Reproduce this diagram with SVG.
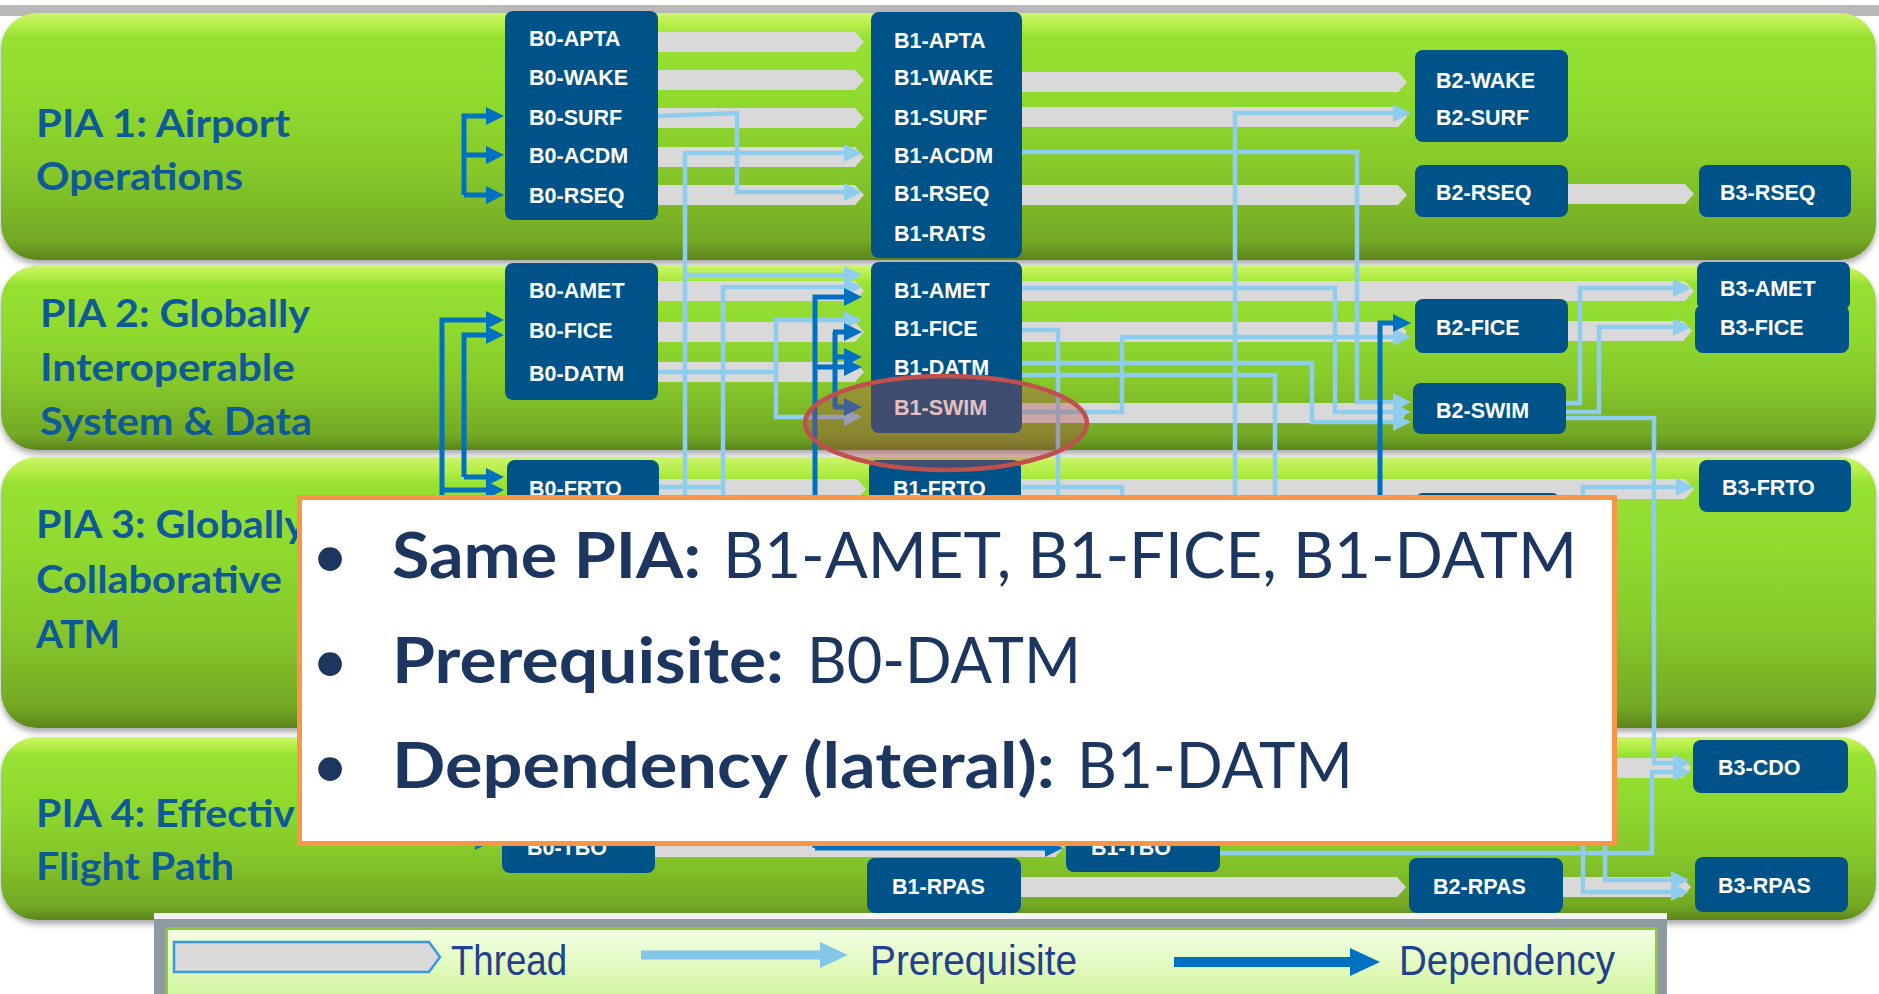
<svg xmlns="http://www.w3.org/2000/svg" width="1879" height="994" viewBox="0 0 1879 994">
<style>
.band{fill:url(#gb);filter:url(#sh)}
.box{fill:#005388}
.nt{font-family:"Liberation Sans",Arial,sans-serif;font-weight:bold;font-size:21.5px;fill:#ffffff}
.ti{font-family:Lato,"Open Sans",sans-serif;font-weight:700;font-size:38px;fill:#0e5a98}
.th{fill:#d9d9d9}
.pq{fill:none;stroke:#8fcdee;stroke-width:4.5;marker-end:url(#ap)}
.dp{fill:none;stroke:#0070c0;stroke-width:5;marker-end:url(#ad)}
.pb{font-family:Lato,"Open Sans",sans-serif;font-weight:700;font-size:64px;fill:#1c3660}
.pr{font-family:Lato,"Open Sans",sans-serif;font-weight:400;font-size:64px;fill:#1c3660}
.lg{font-family:"Liberation Sans",Arial,sans-serif;font-size:42px;fill:#22408c}
</style>
<defs>
<linearGradient id="gb" x1="0" y1="0" x2="0" y2="1">
<stop offset="0" stop-color="#cdf56a"/>
<stop offset="0.05" stop-color="#b6ee48"/>
<stop offset="0.1" stop-color="#97e132"/>
<stop offset="0.35" stop-color="#90da2e"/>
<stop offset="0.65" stop-color="#85c72b"/>
<stop offset="0.92" stop-color="#73a924"/>
<stop offset="1" stop-color="#5c851d"/>
</linearGradient>
<linearGradient id="gl" x1="0" y1="0" x2="0" y2="1">
<stop offset="0" stop-color="#f3ffe6"/>
<stop offset="1" stop-color="#d2f59c"/>
</linearGradient>
<filter id="sh" x="-2%" y="-5%" width="104%" height="115%">
<feDropShadow dx="0" dy="4" stdDeviation="3" flood-color="#000" flood-opacity="0.35"/>
</filter>
<marker id="ap" viewBox="0 0 18 18" refX="0" refY="9" markerWidth="18" markerHeight="18" markerUnits="userSpaceOnUse" orient="auto"><path d="M0,0 L18,9 L0,18 z" fill="#8fcdee"/></marker>
<marker id="ad" viewBox="0 0 18 18" refX="0" refY="9" markerWidth="18" markerHeight="18" markerUnits="userSpaceOnUse" orient="auto"><path d="M0,0 L18,9 L0,18 z" fill="#0070c0"/></marker>
</defs>
<rect x="0" y="0" width="1879" height="994" fill="#ffffff"/>
<rect x="0" y="5" width="1879" height="11" fill="#b9b9b9"/>

<g id="bands">
<rect class="band" x="1" y="13" width="1875" height="247" rx="36"/>
<rect class="band" x="1" y="266" width="1875" height="184" rx="36"/>
<rect class="band" x="1" y="457" width="1875" height="271" rx="36"/>
<rect class="band" x="1" y="737" width="1875" height="183" rx="36"/>
</g>

<g id="pia-titles">
<text class="ti" x="36" y="137" textLength="254" lengthAdjust="spacingAndGlyphs">PIA 1: Airport</text>
<text class="ti" x="36" y="190" textLength="207" lengthAdjust="spacingAndGlyphs">Operations</text>
<text class="ti" x="40" y="327" textLength="270" lengthAdjust="spacingAndGlyphs">PIA 2: Globally</text>
<text class="ti" x="40" y="381" textLength="255" lengthAdjust="spacingAndGlyphs">Interoperable</text>
<text class="ti" x="40" y="435" textLength="272" lengthAdjust="spacingAndGlyphs">System &amp; Data</text>
<text class="ti" x="36" y="538" textLength="270" lengthAdjust="spacingAndGlyphs">PIA 3: Globally</text>
<text class="ti" x="36" y="593" textLength="246" lengthAdjust="spacingAndGlyphs">Collaborative</text>
<text class="ti" x="36" y="648" textLength="84" lengthAdjust="spacingAndGlyphs">ATM</text>
<text class="ti" x="36" y="827" textLength="259" lengthAdjust="spacingAndGlyphs">PIA 4: Effectiv</text>
<text class="ti" x="36" y="880" textLength="198" lengthAdjust="spacingAndGlyphs">Flight Path</text>
</g>

<g id="connectors">
<g id="threads">
<polygon class="th" points="658,32 855,32 864,42 855,52 658,52"/>
<polygon class="th" points="658,70 855,70 864,80 855,90 658,90"/>
<polygon class="th" points="658,108 855,108 864,118 855,128 658,128"/>
<polygon class="th" points="658,147 855,147 864,157 855,167 658,167"/>
<polygon class="th" points="658,185 855,185 864,195 855,205 658,205"/>
<polygon class="th" points="1022,72 1398,72 1407,82 1398,92 1022,92"/>
<polygon class="th" points="1022,107 1398,107 1407,117 1398,127 1022,127"/>
<polygon class="th" points="1022,185 1398,185 1407,195 1398,205 1022,205"/>
<polygon class="th" points="1568,184 1685,184 1694,194 1685,204 1568,204"/>
<polygon class="th" points="658,281 855,281 864,291 855,301 658,301"/>
<polygon class="th" points="658,322 855,322 864,332 855,342 658,342"/>
<polygon class="th" points="658,362 855,362 864,372 855,382 658,382"/>
<polygon class="th" points="1022,281 1685,281 1694,291 1685,301 1022,301"/>
<polygon class="th" points="1022,322 1398,322 1407,332 1398,342 1022,342"/>
<polygon class="th" points="1568,321 1683,321 1692,331 1683,341 1568,341"/>
<polygon class="th" points="1022,403 1398,403 1407,413 1398,423 1022,423"/>
<polygon class="th" points="659,479 857,479 866,489 857,499 659,499"/>
<polygon class="th" points="1021,479 1685,479 1694,489 1685,499 1021,499"/>
<polygon class="th" points="1400,758 1682,758 1691,768 1682,778 1400,778"/>
<polygon class="th" points="655,837 1055,837 1064,847 1055,857 655,857"/>
<polygon class="th" points="1021,877 1397,877 1406,887 1397,897 1021,897"/>
<polygon class="th" points="1563,877 1682,877 1691,887 1682,897 1563,897"/>
</g>
<g id="prerequisites">
<path class="pq" d="M658,116 L737,113 V192 H844"/>
<path class="pq" d="M658,620 H685 V153 H844"/>
<path class="pq" d="M685,275 H844"/>
<path class="pq" d="M723,600 V287 H844"/>
<path class="pq" d="M658,487 H723" style="marker-end:none"/>
<path class="pq" d="M776,372 V320 H844"/>
<path class="pq" d="M658,372 H776 V417 H844"/>
<path class="pq" d="M1022,152 H1357 V402 H1393"/>
<path class="pq" d="M1022,288 H1335 V412 H1393"/>
<path class="pq" d="M1022,363 H1312 V422 H1393"/>
<path class="pq" d="M1022,375 H1275 V620" style="marker-end:none"/>
<path class="pq" d="M1022,330 H1058 V620" style="marker-end:none"/>
<path class="pq" d="M1022,412 H1122 V337 H1393"/>
<path class="pq" d="M1235,620 V113 H1393"/>
<path class="pq" d="M1022,487 H1122 V620" style="marker-end:none"/>
<path class="pq" d="M1566,403 H1580 V288 H1673"/>
<path class="pq" d="M1566,412 H1599 V327 H1673"/>
<path class="pq" d="M1566,418 H1654 V763 H1673"/>
<path class="pq" d="M1220,853 H1652 V772 H1673"/>
<path class="pq" d="M1583,620 V487 H1676"/>
<path class="pq" d="M1583,620 V892 H1671"/>
<path class="pq" d="M1605,700 V880 H1671"/>
</g>
<g id="dependencies">
<path class="dp" d="M464,195 V116 H486"/>
<path class="dp" d="M464,155 H486"/>
<path class="dp" d="M464,195 H486"/>
<path class="dp" d="M442,840 V320 H486"/>
<path class="dp" d="M442,490 H486"/>
<path class="dp" d="M442,700 V841 H475"/>
<path class="dp" d="M464,477 V335 H486"/>
<path class="dp" d="M464,477 H486"/>
<path class="dp" d="M815,848 V297 H844"/>
<path class="dp" d="M815,367 H844"/>
<path class="dp" d="M815,848 H1045"/>
<path class="dp" d="M835,332 V407" style="marker-end:none"/>
<path class="dp" d="M833,332 H844"/>
<path class="dp" d="M833,357 H844"/>
<path class="dp" d="M833,407 H844"/>
<path class="dp" d="M1380,620 V323 H1393"/>
</g>
</g>

<g id="b0-pia1"><rect class="box" x="505" y="11" width="153" height="209" rx="8"/>
<text class="nt" x="529" y="46">B0-APTA</text><text class="nt" x="529" y="85">B0-WAKE</text><text class="nt" x="529" y="125">B0-SURF</text><text class="nt" x="529" y="163">B0-ACDM</text><text class="nt" x="529" y="203">B0-RSEQ</text></g>
<g id="b1-pia1"><rect class="box" x="871" y="12" width="151" height="246" rx="8"/>
<text class="nt" x="894" y="48">B1-APTA</text><text class="nt" x="894" y="85">B1-WAKE</text><text class="nt" x="894" y="125">B1-SURF</text><text class="nt" x="894" y="163">B1-ACDM</text><text class="nt" x="894" y="201">B1-RSEQ</text><text class="nt" x="894" y="241">B1-RATS</text></g>
<g id="b2-pia1"><rect class="box" x="1415" y="50" width="153" height="92" rx="8"/>
<text class="nt" x="1436" y="88">B2-WAKE</text><text class="nt" x="1436" y="125">B2-SURF</text></g>
<g id="b2-rseq"><rect class="box" x="1415" y="165" width="153" height="52" rx="8"/><text class="nt" x="1436" y="200">B2-RSEQ</text></g>
<g id="b3-rseq"><rect class="box" x="1699" y="165" width="152" height="52" rx="8"/><text class="nt" x="1720" y="200">B3-RSEQ</text></g>
<g id="b0-pia2"><rect class="box" x="505" y="263" width="153" height="137" rx="8"/>
<text class="nt" x="529" y="298">B0-AMET</text><text class="nt" x="529" y="338">B0-FICE</text><text class="nt" x="529" y="381">B0-DATM</text></g>
<g id="b1-pia2"><rect class="box" x="871" y="262" width="151" height="171" rx="8"/>
<text class="nt" x="894" y="298">B1-AMET</text><text class="nt" x="894" y="336">B1-FICE</text><text class="nt" x="894" y="375">B1-DATM</text><text class="nt" x="894" y="415">B1-SWIM</text></g>
<g id="b2-fice"><rect class="box" x="1415" y="299" width="153" height="54" rx="8"/><text class="nt" x="1436" y="335">B2-FICE</text></g>
<g id="b2-swim"><rect class="box" x="1413" y="383" width="153" height="51" rx="8"/><text class="nt" x="1436" y="418">B2-SWIM</text></g>
<g id="b3-amet"><rect class="box" x="1697" y="262" width="153" height="48" rx="8"/><text class="nt" x="1720" y="296">B3-AMET</text></g>
<g id="b3-fice"><rect class="box" x="1695" y="305" width="154" height="48" rx="8"/><text class="nt" x="1720" y="335">B3-FICE</text></g>
<g id="b0-frto"><rect class="box" x="507" y="460" width="152" height="120" rx="8"/><text class="nt" x="529" y="496">B0-FRTO</text></g>
<g id="b1-frto"><rect class="box" x="869" y="460" width="152" height="120" rx="8"/><text class="nt" x="893" y="496">B1-FRTO</text></g>
<g id="b2-pia3"><rect class="box" x="1415" y="493" width="145" height="60" rx="8"/></g>
<g id="b3-frto"><rect class="box" x="1699" y="460" width="152" height="52" rx="8"/><text class="nt" x="1722" y="495">B3-FRTO</text></g>
<g id="b0-tbo"><rect class="box" x="502" y="820" width="153" height="53" rx="8"/><text class="nt" x="527" y="855">B0-TBO</text></g>
<g id="b1-tbo"><rect class="box" x="1066" y="820" width="154" height="52" rx="8"/><text class="nt" x="1091" y="855">B1-TBO</text></g>
<g id="b3-cdo"><rect class="box" x="1693" y="740" width="155" height="53" rx="8"/><text class="nt" x="1718" y="775">B3-CDO</text></g>
<g id="b1-rpas"><rect class="box" x="867" y="858" width="154" height="55" rx="8"/><text class="nt" x="892" y="894">B1-RPAS</text></g>
<g id="b2-rpas"><rect class="box" x="1409" y="858" width="154" height="55" rx="8"/><text class="nt" x="1433" y="894">B2-RPAS</text></g>
<g id="b3-rpas"><rect class="box" x="1695" y="857" width="153" height="55" rx="8"/><text class="nt" x="1718" y="893">B3-RPAS</text></g>

<ellipse id="highlight" cx="946" cy="423" rx="141" ry="47" fill="rgb(180,70,70)" fill-opacity="0.35" stroke="#c0504d" stroke-width="4.5"/>

<g id="legend">
<rect x="154" y="913" width="1513" height="81" fill="#f4f4f4"/>
<rect x="154" y="919" width="1513" height="75" fill="#8e9aa1"/>
<rect x="166.5" y="928.5" width="1490" height="70" fill="url(#gl)" stroke="#8dc63f" stroke-width="3"/>
<polygon points="174,942 429,942 440,957 429,972 174,972" fill="#d9d9d9" stroke="#3a9ad9" stroke-width="2.5"/>
<text class="lg" x="451" y="975" textLength="116" lengthAdjust="spacingAndGlyphs">Thread</text>
<line x1="641" y1="955" x2="822" y2="955" stroke="#84c6ea" stroke-width="9"/>
<polygon points="820,942 848,955 820,968" fill="#84c6ea"/>
<text class="lg" x="870" y="975" textLength="207" lengthAdjust="spacingAndGlyphs">Prerequisite</text>
<line x1="1174" y1="962" x2="1352" y2="962" stroke="#0070c0" stroke-width="10"/>
<polygon points="1350,948 1380,962 1350,976" fill="#0070c0"/>
<text class="lg" x="1399" y="975" textLength="216" lengthAdjust="spacingAndGlyphs">Dependency</text>
</g>

<g id="popup">
<rect x="299.5" y="497.5" width="1315" height="346" fill="#ffffff" stroke="#f79646" stroke-width="5"/>
<text class="pr" x="330" y="578" text-anchor="middle">•</text>
<text class="pb" x="392" y="578" textLength="309" lengthAdjust="spacingAndGlyphs">Same PIA:</text>
<text class="pr" x="723" y="578" textLength="854" lengthAdjust="spacingAndGlyphs">B1-AMET, B1-FICE, B1-DATM</text>
<text class="pr" x="330" y="683" text-anchor="middle">•</text>
<text class="pb" x="392" y="683" textLength="392" lengthAdjust="spacingAndGlyphs">Prerequisite:</text>
<text class="pr" x="807" y="683" textLength="274" lengthAdjust="spacingAndGlyphs">B0-DATM</text>
<text class="pr" x="330" y="788" text-anchor="middle">•</text>
<text class="pb" x="392" y="788" textLength="663" lengthAdjust="spacingAndGlyphs">Dependency (lateral):</text>
<text class="pr" x="1077" y="788" textLength="276" lengthAdjust="spacingAndGlyphs">B1-DATM</text>
</g>
</svg>
